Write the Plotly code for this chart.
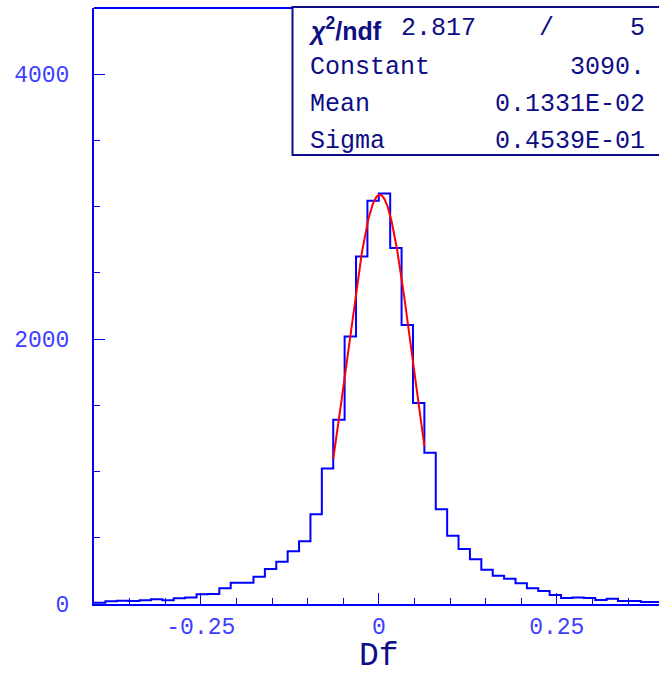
import numpy as np
import plotly.graph_objects as go

# ---- data ----
x_min = -0.4
bin_width = 0.016
counts = [10, 20, 25, 23, 28, 35, 28, 43, 50, 73,
          75, 118, 161, 161, 206, 264, 319, 398, 473, 677,
          1024, 1391, 2020, 2624, 3044, 3099, 2687, 2106, 1517, 1142,
          715, 516, 415, 337, 259, 214, 191, 156, 118, 98,
          68, 45, 50, 45, 30, 40, 23, 23, 15, 15]

fit_constant = 3090.0
fit_mean = 0.1331e-02
fit_sigma = 0.4539e-01
fit_range = [-0.064, 0.064]

stat_labels = ["Constant", "Mean", "Sigma"]
stat_values = ["3090.", "0.1331E-02", "0.4539E-01"]
chi2_value = "2.817"
ndf_value = "5"

x_tick_vals = [-0.25, 0, 0.25]
x_tick_text = ["-0.25", "0", "0.25"]
y_tick_vals = [0, 2000, 4000]
y_tick_text = ["0", "2000", "4000"]

# ---- derived ----
n = len(counts)
edges = [x_min + i * bin_width for i in range(n + 1)]
hx = edges
hy = counts + [counts[-1]]

fx = np.linspace(fit_range[0], fit_range[1], 200)
fy = fit_constant * np.exp(-0.5 * ((fx - fit_mean) / fit_sigma) ** 2)

W, H = 659, 673
L, T, B = 94, 8, 69
pw = W - L
ph = H - T - B

def px2x(px):
    return (px - L) / pw

def py2y(py):
    return (H - B - py) / ph

BLUE = "#0000ff"
NAVY = "#0d0d85"
MONO = "Liberation Mono, Courier New, monospace"

fig = go.Figure()
fig.add_trace(go.Scatter(x=hx, y=hy, mode="lines", line=dict(color=BLUE, width=2, shape="hv"),
                         hoverinfo="skip", showlegend=False))
fig.add_trace(go.Scatter(x=fx, y=fy, mode="lines", line=dict(color="#ff0000", width=2),
                         hoverinfo="skip", showlegend=False))

axis_common = dict(showgrid=False, zeroline=False, showline=True, linecolor=BLUE, linewidth=2,
                   ticks="inside", tickcolor=BLUE, tickwidth=1, automargin=False,
                   tickfont=dict(family=MONO, size=23, color="#4040ff"))

fig.update_xaxes(range=[-0.4, -0.4 + pw / 712.0], tickvals=x_tick_vals, ticktext=x_tick_text,
                 ticklen=11, ticklabelstandoff=0,
                 minor=dict(dtick=0.05, tick0=0, ticks="inside", ticklen=6, tickcolor=BLUE, tickwidth=1),
                 **axis_common)
fig.update_yaxes(range=[0, 4500], tickvals=y_tick_vals, ticktext=y_tick_text,
                 ticklen=11, ticklabelstandoff=18,
                 minor=dict(dtick=500, tick0=0, ticks="inside", ticklen=6, tickcolor=BLUE, tickwidth=1),
                 **axis_common)

shapes = [
    dict(type="line", xref="paper", yref="paper", x0=0, x1=1, y0=1, y1=1,
         line=dict(color=BLUE, width=2)),
    dict(type="rect", xref="paper", yref="paper", x0=px2x(292.5), x1=px2x(700),
         y0=py2y(155), y1=py2y(7), line=dict(color=NAVY, width=2), fillcolor="white"),
]

ann = []
rows_y = [29, 67, 104, 141]
FS = 25
ann.append(dict(x=px2x(306), y=py2y(rows_y[0]), xref="paper", yref="paper", xanchor="left", yanchor="middle",
                text="<b><i>χ</i><sup>2</sup>/ndf</b>", showarrow=False,
                font=dict(family="Liberation Sans, Arial, sans-serif", size=25, color=NAVY)))
ann.append(dict(x=px2x(399), y=py2y(rows_y[0]), xref="paper", yref="paper", xanchor="left", yanchor="middle",
                text=chi2_value, showarrow=False, font=dict(family=MONO, size=FS, color=NAVY)))
ann.append(dict(x=px2x(546), y=py2y(rows_y[0]), xref="paper", yref="paper", xanchor="center", yanchor="middle",
                text="/", showarrow=False, font=dict(family=MONO, size=FS, color=NAVY)))
ann.append(dict(x=px2x(647), y=py2y(rows_y[0]), xref="paper", yref="paper", xanchor="right", yanchor="middle",
                text=ndf_value, showarrow=False, font=dict(family=MONO, size=FS, color=NAVY)))
for i, (lab, val) in enumerate(zip(stat_labels, stat_values)):
    yy = py2y(rows_y[i + 1])
    ann.append(dict(x=px2x(308), y=yy, xref="paper", yref="paper", xanchor="left", yanchor="middle",
                    text=lab, showarrow=False, font=dict(family=MONO, size=FS, color=NAVY)))
    ann.append(dict(x=px2x(647), y=yy, xref="paper", yref="paper", xanchor="right", yanchor="middle",
                    text=val, showarrow=False, font=dict(family=MONO, size=FS, color=NAVY)))

# x-axis title as an annotation placed below the tick labels
ann.append(dict(x=px2x(379), y=py2y(656), xref="paper", yref="paper", xanchor="center", yanchor="middle",
                text="Df", showarrow=False, font=dict(family=MONO, size=33, color=NAVY)))

fig.update_layout(width=W, height=H, margin=dict(l=L, r=0, t=T, b=B),
                  paper_bgcolor="white", plot_bgcolor="white",
                  shapes=shapes, annotations=ann, showlegend=False)

fig.write_html("out.html", config={"displayModeBar": False},
               post_script="document.body.style.margin='0';document.body.style.overflow='hidden';")
